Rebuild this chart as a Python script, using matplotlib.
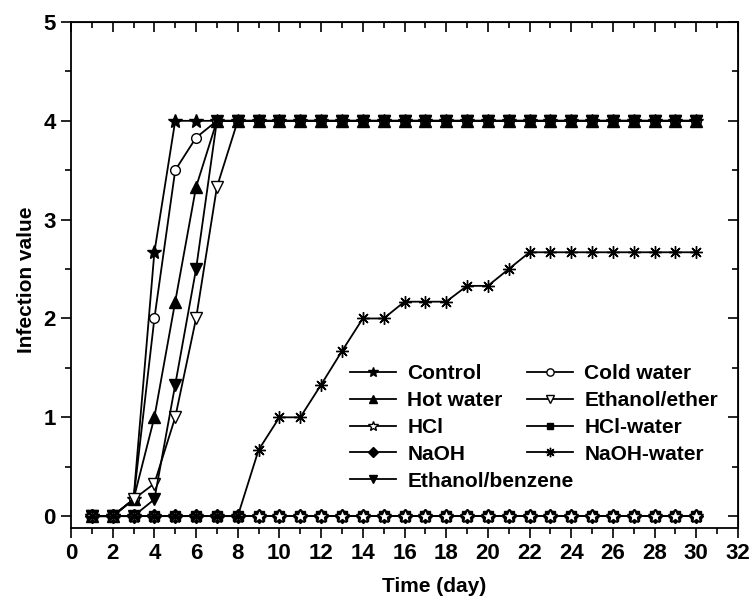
import matplotlib

matplotlib.use("Agg")
import matplotlib.pyplot as plt
from matplotlib.lines import Line2D

plt.rcParams["font.family"] = ["Liberation Sans", "DejaVu Sans"]
plt.rcParams["font.weight"] = "bold"

days = list(range(1, 31))

# infection value per day (day 1..30)
control = [0, 0, 0.17, 2.67] + [4] * 26
cold_water = [0, 0, 0.17, 2.0, 3.5, 3.83] + [4] * 24
hot_water = [0, 0, 0.17, 1.0, 2.17, 3.33] + [4] * 24
ethanol_ether = [0, 0, 0.17, 0.33, 1.0, 2.0, 3.33] + [4] * 23
ethanol_benzene = [0, 0, 0, 0.17, 1.33, 2.5] + [4] * 24
hcl = [0] * 30
hcl_water = [0] * 30
naoh = [0] * 30
naoh_water = [0] * 8 + [0.67, 1.0, 1.0, 1.33, 1.67, 2.0, 2.0, 2.17, 2.17, 2.17,
                        2.33, 2.33, 2.5] + [2.67] * 9

x_ticks = list(range(0, 33, 2))
y_ticks = [0, 1, 2, 3, 4, 5]

W, H = 753, 601
fig = plt.figure(figsize=(W / 100, H / 100), dpi=100)
ax = fig.add_axes([71 / W, 1 - 528 / H, (738 - 71) / W, (528 - 22) / H])

lw = 1.3
# (label, data, marker, filled, size) in drawing order
series = [
    ("Control", control, "*", True, 10),
    ("Cold water", cold_water, "o", False, 7),
    ("Hot water", hot_water, "^", True, 8),
    ("Ethanol/ether", ethanol_ether, "v", False, 8),
    ("Ethanol/benzene", ethanol_benzene, "v", True, 8),
    ("HCl-water", hcl_water, "s", True, 6.5),
    ("NaOH", naoh, "D", True, 7),
    ("HCl", hcl, "*", False, 10),
    ("NaOH-water", naoh_water, (8, 2, 0), False, 9),
]

handles = {}
for label, vals, mk, filled, ms in series:
    h, = ax.plot(days, vals, color="black", lw=lw, marker=mk, ms=ms,
                 mfc="black" if filled else "white", mec="black", mew=1.0,
                 label=label, clip_on=False)
    handles[label] = h

ax.set_xlim(0, 32)
ax.set_ylim(-0.12, 5)
ax.set_xticks(x_ticks)
ax.set_xticks(range(0, 33), minor=True)
ax.set_yticks(y_ticks)
ax.set_yticks([i * 0.5 for i in range(0, 11)], minor=True)
ax.tick_params(which="both", direction="out", width=1.2, labelsize=16,
               top=False, right=False, pad=4)
ax.tick_params(which="major", length=7)
ax.tick_params(which="minor", length=4)
for s in ax.spines.values():
    s.set_linewidth(1.3)

# inward ticks on top and right
sec_x = ax.secondary_xaxis("top")
sec_x.set_xticks(x_ticks)
sec_x.set_xticks(range(0, 33), minor=True)
sec_x.tick_params(which="both", direction="in", labeltop=False, width=1.2)
sec_x.tick_params(which="major", length=7)
sec_x.tick_params(which="minor", length=4)
sec_y = ax.secondary_yaxis("right")
sec_y.set_yticks(y_ticks)
sec_y.set_yticks([i * 0.5 for i in range(0, 11)], minor=True)
sec_y.tick_params(which="both", direction="in", labelright=False, width=1.2)
sec_y.tick_params(which="major", length=7)
sec_y.tick_params(which="minor", length=4)

ax.set_xlabel("Time (day)", fontsize=15, fontweight="bold")
ax.xaxis.set_label_coords(0.545, -0.097)
ax.set_ylabel("Infection value", fontsize=15, fontweight="bold")
ax.yaxis.set_label_coords(-0.052, 0.49)

col1 = ["Control", "Hot water", "HCl", "NaOH", "Ethanol/benzene"]
col2 = ["Cold water", "Ethanol/ether", "HCl-water", "NaOH-water"]


def proxy(h):
    return Line2D([], [], color="black", lw=lw, marker=h.get_marker(),
                  ms=h.get_markersize() * 0.75, mfc=h.get_markerfacecolor(),
                  mec="black", mew=1.0)


leg_kw = dict(loc="upper left", frameon=False, fontsize=15, borderpad=0,
              borderaxespad=0, handlelength=2.2, handletextpad=0.55,
              labelspacing=0.38, bbox_transform=fig.transFigure)
leg1 = ax.legend([proxy(handles[k]) for k in col1], col1,
                 bbox_to_anchor=(350 / W, 1 - 364 / H), **leg_kw)
ax.add_artist(leg1)
ax.legend([proxy(handles[k]) for k in col2], col2,
          bbox_to_anchor=(527 / W, 1 - 364 / H), **leg_kw)

fig.savefig("out.png", dpi=100)
